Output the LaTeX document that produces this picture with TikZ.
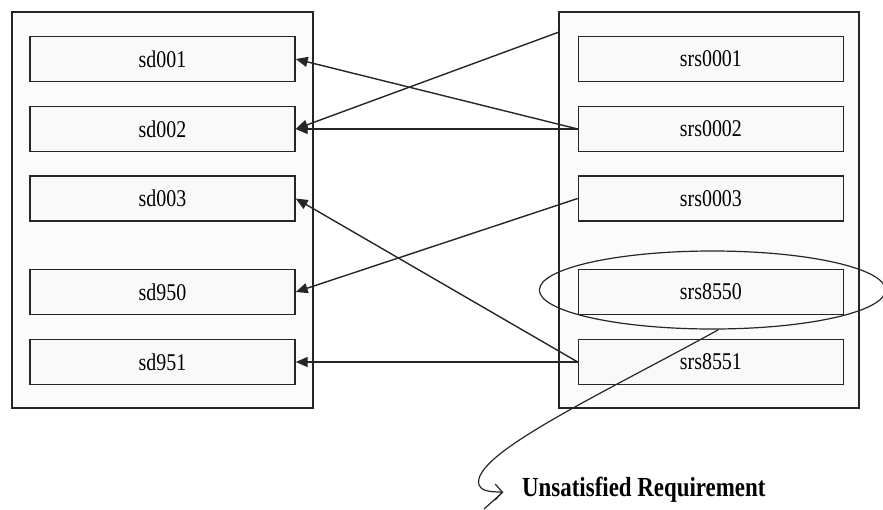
\documentclass[tikz,border=0pt]{standalone}
\usepackage{fontspec}
\setmainfont{Liberation Serif}[FakeStretch=0.83]
\usetikzlibrary{positioning,shapes.geometric,arrows.meta}
\tikzset{
    group-box/.style = {draw=black!85, fill=gray!3, line width=1.4pt, rectangle, minimum width=300pt, minimum height=396pt, inner sep=0pt},
    item-box/.style = {draw=black!85, fill=gray!5, line width=1.4pt, rectangle, minimum width=265pt, minimum height=45pt, inner sep=0pt, font=\fontsize{24}{28}\selectfont},
    trace-link/.style = {draw=black!85, line width=1.4pt, -{Triangle[length=12pt,width=10pt]}},
    missing-mark/.style = {draw=black!85, line width=1.2pt, ellipse, inner sep=0pt},
    note-curve/.style = {draw=black!85, line width=1.2pt, -{Straight Barb[length=7pt,width=16pt]}},
    note-text/.style = {inner sep=0pt, font=\bfseries\fontsize{27.6}{32}\selectfont},
}
\begin{document}
\begin{tikzpicture}[x=1pt,y=-1pt]
\useasboundingbox (0,0) rectangle (883,509);
% the two groups
\node [group-box, minimum width=301pt] (docs) at (162.5,210) {};
\node [group-box] (reqs) at (709,210) {};
% design items
\node [item-box] (sd001) at (162.5,59) {sd001};
\node [item-box] (sd002) at (162.5,129) {sd002};
\node [item-box] (sd003) at (162.5,198.5) {sd003};
\node [item-box] (sd950) at (162.5,292) {sd950};
\node [item-box] (sd951) at (162.5,362) {sd951};
% requirement items, level with the design items
\node [item-box, right=282pt of sd001] (srs0001) {srs0001};
\node [item-box, right=282pt of sd002] (srs0002) {srs0002};
\node [item-box, right=282pt of sd003] (srs0003) {srs0003};
\node [item-box, right=282pt of sd950] (srs8550) {srs8550};
\node [item-box, right=282pt of sd951] (srs8551) {srs8551};
% traces
\coordinate (srs0001-out) at ([yshift=-21pt]reqs.north west);
\draw [trace-link] (srs0001-out) -- (sd002.east);
\draw [trace-link] (srs0002.west) -- (sd001.east);
\draw [trace-link] (srs0002.west) -- (sd002.east);
\draw [trace-link] (srs0003.west) -- (sd950.east);
\draw [trace-link] (srs8551.west) -- (sd003.east);
\draw [trace-link] (srs8551.west) -- (sd951.east);
% requirement with no trace
\node [missing-mark, minimum width=346pt, minimum height=78pt] (gap) at ([xshift=1.5pt,yshift=2pt]srs8550) {};
\coordinate (note-tip) at (503,492);
\coordinate (note-tail) at (484,509);
\draw [note-curve] (gap.-81) .. controls (600,395) and (470,455) .. (479,485) .. controls (481,491) and (490,492) .. (note-tip);
\draw [draw=black!85, line width=1.2pt] (note-tip) -- (note-tail);
\node [note-text, anchor=base west] (note) at (522,496) {Unsatisfied Requirement};
\end{tikzpicture}
\end{document}
